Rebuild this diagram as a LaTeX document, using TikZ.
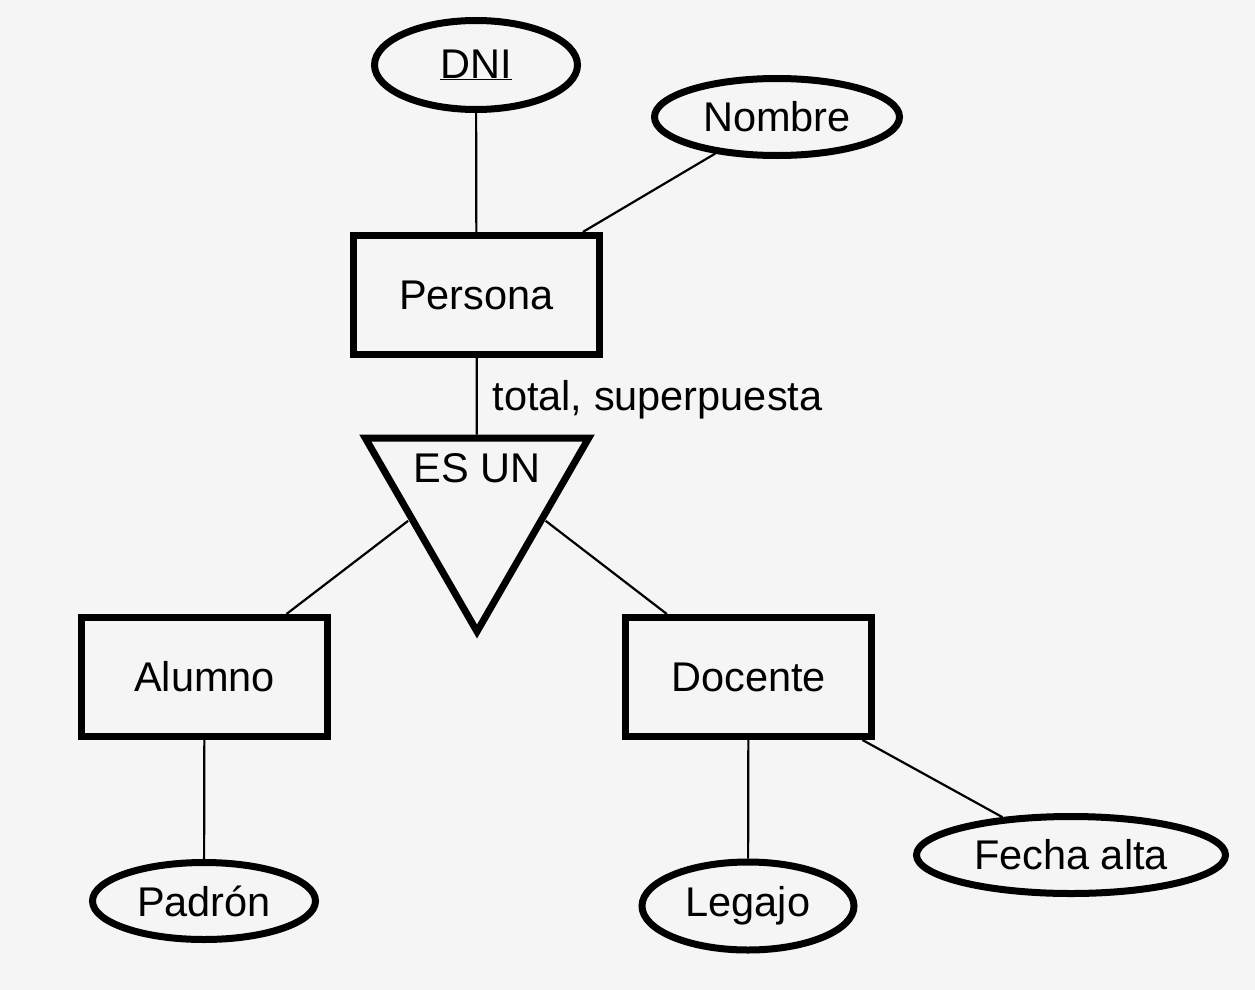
\documentclass[tikz,border=0pt]{standalone}
\usepackage{fontspec}
\setmainfont{Liberation Sans}
\usetikzlibrary{positioning, shapes.geometric, calc}
\definecolor{bgcol}{HTML}{F5F5F5}

\begin{document}
\begin{tikzpicture}[
    x=1pt, y=-1pt,
    every node/.style={font=\fontsize{41.5}{49}\selectfont},
    entity/.style={draw, line width=7pt, minimum width=246pt, minimum height=119pt, inner sep=0pt},
    attr/.style={draw, ellipse, line width=7pt, inner sep=0pt},
    isa/.style={draw, regular polygon, regular polygon sides=3, shape border rotate=180, minimum size=258pt, line width=7pt, inner sep=0pt},
    link/.style={line width=2.2pt, draw=black}
]

    % ================= CANVAS =================
    \fill[bgcol] (0,0) rectangle (1255,990);
    \useasboundingbox (0,0) rectangle (1255,990);

    % ================= ENTITIES =================
    \node[entity] (persona) at (476.5, 295) {Persona};
    \node[entity] (alumno) at (204.5, 677) {Alumno};
    \node[entity] (docente) at (748.5, 677) {Docente};

    % ================= ATTRIBUTES =================
    \node[attr, minimum width=203pt, minimum height=89pt] (dni) at (476, 65) {\underline{DNI}};
    \node[attr, minimum width=245pt, minimum height=77pt] (nombre) at (777, 117) {Nombre};
    \node[attr, minimum width=223pt, minimum height=77pt] (padron) at (204, 901) {Padrón};
    \node[attr, minimum width=212pt, minimum height=88pt] (legajo) at (748, 906) {Legajo};
    \node[attr, minimum width=309pt, minimum height=77pt] (fecha) at (1071, 855) {Fecha alta};

    % ================= SPECIALIZATION (ES UN) =================
    \node[isa] (tri) at (477, 502.5) {};
    \node (esun) at (477, 468) {ES UN};
    \node[anchor=base west] (restr) at (489, 410) {total, superpuesta};

    % ================= DRAW CONNECTIONS =================
    \draw[link] (dni) -- (persona);
    \draw[link] (nombre) -- (persona);
    \draw[link] (persona) -- (tri);

    % Hierarchy lines start on the triangle edges
    \draw[link] ($(esun)!0.253!(alumno)$) -- (alumno);
    \draw[link] ($(esun)!0.253!(docente)$) -- (docente);

    \draw[link] (alumno) -- (padron);
    \draw[link] (docente) -- (legajo);
    \draw[link] (docente) -- (fecha);

\end{tikzpicture}
\end{document}
